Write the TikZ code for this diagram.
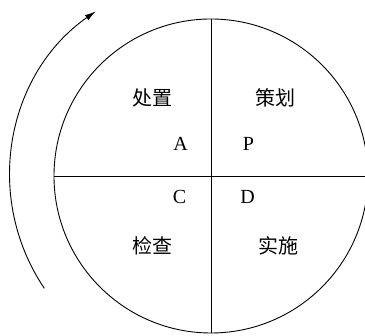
\documentclass[tikz,border=0pt]{standalone}
\usepackage{fontspec}
\setmainfont{Liberation Serif}
\newfontfamily\cjk{Noto Sans CJK SC}
\usetikzlibrary{arrows.meta, positioning, calc}

\begin{document}
\begin{tikzpicture}[x=1pt, y=1pt, line width=0.9pt,
    letter/.style={font=\fontsize{20}{22}\selectfont, inner sep=0pt},
    phase/.style={font=\cjk\fontsize{20}{22}\selectfont, inner sep=0pt}]
        \useasboundingbox (0,0) rectangle (365,336);

        % the PDCA wheel
        \node[draw, circle, minimum size=314pt, inner sep=0pt] (wheel) at (211,160) {};
        \draw (wheel.north) -- (wheel.south);
        \draw (wheel.west) -- (wheel.east);

        % quadrant names
        \node[phase] (act) at (152,238) {处置};
        \node[phase] (plan) at (275,238) {策划};
        \node[phase] (check) at (152,90) {检查};
        \node[phase] (do) at (278,90) {实施};

        % letters near the centre
        \node[letter] (a) at (180.5,192.5) {A};
        \node[letter] (p) at (248.5,192.5) {P};
        \node[letter] (c) at (179.5,139) {C};
        \node[letter] (d) at (247.5,139) {D};

        % direction of rotation
        \draw[-{Latex[length=11pt, width=6pt]}]
          ($(wheel.center)+(214:201)$) arc (214:125:201);
      \end{tikzpicture}
\end{document}
